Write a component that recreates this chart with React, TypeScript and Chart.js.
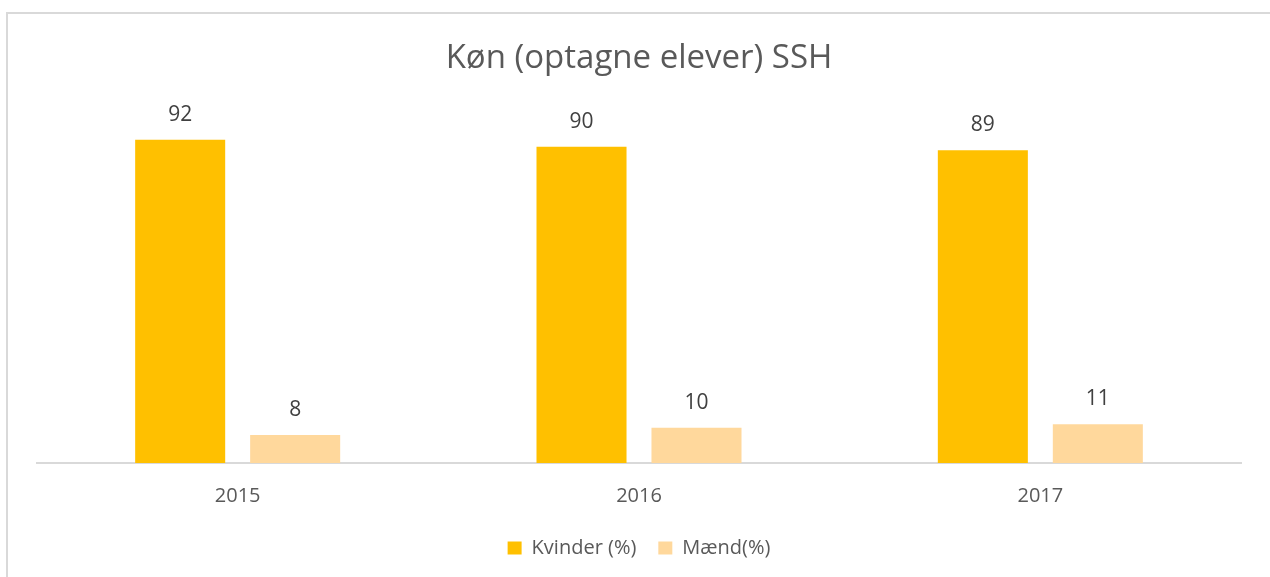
import React, { useEffect, useRef } from "react";
import { Chart, registerables } from "chart.js";

Chart.register(...registerables);

const categories = ["2015", "2016", "2017"];
const kvinder = [92, 90, 89];
const maend = [8, 10, 11];
const seriesNames = ["Kvinder (%)", "Mænd(%)"];
const titleText = "Køn (optagne elever) SSH";

const FONT = "'Open Sans', 'Noto Sans', sans-serif";

const valueLabels = {
  id: "valueLabels",
  afterDatasetsDraw(chart: any) {
    const ctx = chart.ctx;
    ctx.save();
    ctx.font = `21px ${FONT}`;
    ctx.fillStyle = "#404040";
    ctx.textAlign = "center";
    ctx.textBaseline = "middle";
    chart.data.datasets.forEach((ds: any, i: number) => {
      const meta = chart.getDatasetMeta(i);
      meta.data.forEach((el: any, j: number) => {
        ctx.fillText(String(ds.data[j]), el.x, el.y - 25);
      });
    });
    ctx.restore();
  },
};

export default function App() {
  const ref = useRef<HTMLCanvasElement>(null);
  useEffect(() => {
    document.body.style.margin = "0";
    const chart = new Chart(ref.current!, {
      type: "bar",
      data: {
        labels: categories,
        datasets: [
          { label: seriesNames[0], data: kvinder, backgroundColor: "#FFC000" },
          { label: seriesNames[1], data: maend, backgroundColor: "#FFD89C" },
        ],
      },
      options: {
        animation: false,
        responsive: false,
        maintainAspectRatio: false,
        layout: { padding: { left: 37, right: 29, top: 0, bottom: 9 } },
        datasets: {
          bar: { categoryPercentage: 0.573, barPercentage: 0.783 },
        },
        scales: {
          x: {
            grid: { display: false },
            border: { display: true, color: "#d9d9d9", width: 2 },
            ticks: { color: "#595959", font: { family: FONT, size: 20 }, padding: 13 },
            afterFit: (scale: any) => {
              scale.height -= 5;
            },
          },
          y: { display: false, min: 0, max: 100 },
        },
        plugins: {
          title: {
            display: true,
            text: titleText,
            color: "#595959",
            font: { family: FONT, size: 33, weight: "normal" },
            padding: { top: 39, bottom: 33 },
          },
          legend: {
            position: "bottom",
            labels: {
              color: "#595959",
              font: { family: FONT, size: 20 },
              boxWidth: 14,
              boxHeight: 13,
              padding: 22,
            },
          },
          tooltip: { enabled: false },
        },
      },
      plugins: [valueLabels],
    });
    return () => chart.destroy();
  }, []);
  return (
    <div style={{ position: "relative", width: 1270, height: 577, overflow: "hidden", background: "#fff" }}>
      <div
        style={{
          position: "absolute",
          left: 6,
          top: 12,
          width: 1300,
          height: 600,
          borderLeft: "2px solid #d9d9d9",
          borderTop: "2px solid #d9d9d9",
        }}
      />
      <canvas ref={ref} width={1270} height={577} style={{ position: "absolute", left: 0, top: 0 }} />
    </div>
  );
}
